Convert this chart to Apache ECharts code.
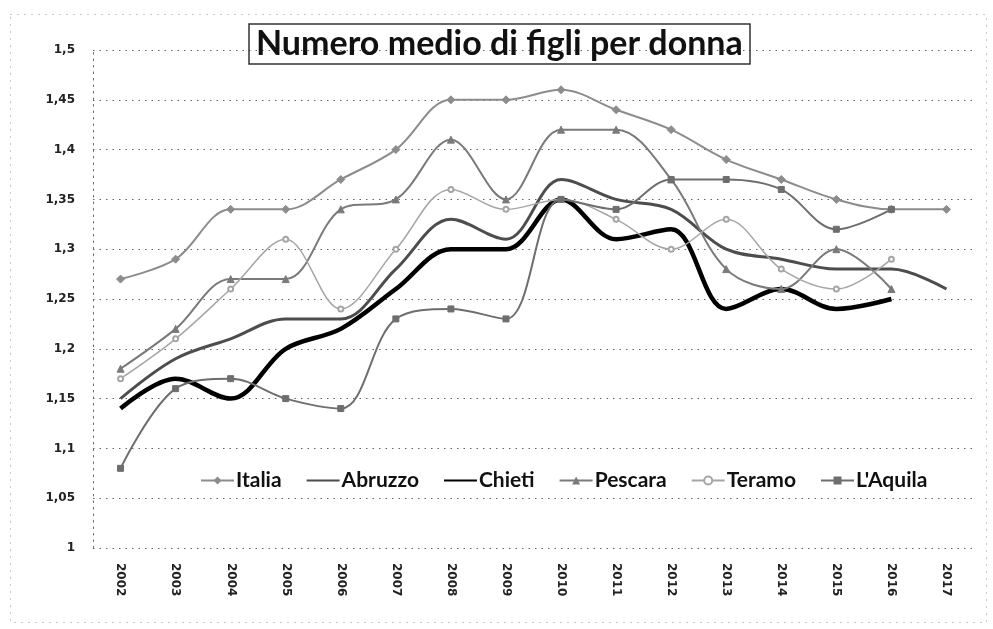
<!DOCTYPE html>
<html>
<head>
<meta charset="utf-8">
<script src="https://cdn.jsdelivr.net/npm/echarts@6/dist/echarts.min.js"></script>
<style>
  html, body { margin: 0; padding: 0; background: #fff; }
  #chart { width: 993px; height: 629px; }
</style>
</head>
<body>
<div id="chart"></div>
<script>
// Numero medio di figli per donna, 2002-2017
const years = ['2002', '2003', '2004', '2005', '2006', '2007', '2008', '2009', '2010', '2011', '2012', '2013', '2014', '2015', '2016', '2017'];
const italia = [1.27, 1.29, 1.34, 1.34, 1.37, 1.40, 1.45, 1.45, 1.46, 1.44, 1.42, 1.39, 1.37, 1.35, 1.34, 1.34];
const abruzzo = [1.15, 1.19, 1.21, 1.23, 1.23, 1.28, 1.33, 1.31, 1.37, 1.35, 1.34, 1.30, 1.29, 1.28, 1.28, 1.26];
const chieti = [1.14, 1.17, 1.15, 1.20, 1.22, 1.26, 1.30, 1.30, 1.35, 1.31, 1.32, 1.24, 1.26, 1.24, 1.25];
const pescara = [1.18, 1.22, 1.27, 1.27, 1.34, 1.35, 1.41, 1.35, 1.42, 1.42, 1.37, 1.28, 1.26, 1.30, 1.26];
const teramo = [1.17, 1.21, 1.26, 1.31, 1.24, 1.30, 1.36, 1.34, 1.35, 1.33, 1.30, 1.33, 1.28, 1.26, 1.29];
const laquila = [1.08, 1.16, 1.17, 1.15, 1.14, 1.23, 1.24, 1.23, 1.35, 1.34, 1.37, 1.37, 1.36, 1.32, 1.34];

const chart = echarts.init(document.getElementById('chart'), null, { renderer: 'canvas' });

const dotted = { color: '#666', width: 1, type: [1.5, 5] };

function line(name, data, color, width, symbol, symbolSize) {
  return {
    name,
    type: 'line',
    data,
    smooth: 0.35,
    symbol: symbol || 'none',
    symbolSize: symbolSize || 0,
    showSymbol: !!symbol,
    itemStyle: { color, borderColor: color },
    lineStyle: { color, width },
    emphasis: { disabled: true }
  };
}

chart.setOption({
  animation: false,
  backgroundColor: '#fff',
  title: {
    text: 'Numero medio di figli per donna',
    left: 249,
    top: 24,
    padding: [3, 7, 3, 7],
    borderColor: '#333',
    borderWidth: 1.5,
    textStyle: { fontFamily: 'Lato', fontWeight: 'bold', fontSize: 34, color: '#111' }
  },
  legend: {
    left: 195,
    top: 465,
    itemWidth: 33,
    itemHeight: 10,
    itemGap: 24,
    textStyle: { fontFamily: 'Lato', fontWeight: 'bold', fontSize: 21, color: '#111', padding: [0, 0, 0, -3] },
    data: [
      'Italia',
      { name: 'Abruzzo', itemStyle: { opacity: 0 } },
      { name: 'Chieti', itemStyle: { opacity: 0 } },
      'Pescara',
      'Teramo',
      "L'Aquila"
    ]
  },
  grid: { left: 93, right: 19, top: 50, bottom: 81 },
  xAxis: {
    type: 'category',
    data: years,
    boundaryGap: true,
    axisLine: { show: false },
    axisTick: { show: false },
    axisLabel: { rotate: -90, margin: 15, fontFamily: 'DejaVu Sans', fontWeight: 'bold', fontSize: 12, color: '#222' }
  },
  yAxis: {
    type: 'value',
    min: 1,
    max: 1.5,
    interval: 0.05,
    axisLine: { show: true, lineStyle: dotted },
    axisTick: { show: false },
    splitLine: { lineStyle: dotted },
    axisLabel: {
      margin: 18,
      fontFamily: 'DejaVu Sans',
      fontWeight: 'bold',
      fontSize: 12,
      color: '#222',
      formatter: (v) => String(+v.toFixed(2)).replace('.', ',')
    }
  },
  graphic: [{
    type: 'rect',
    left: 8,
    top: 12,
    shape: { width: 976, height: 608 },
    style: { fill: 'none', stroke: '#999', lineWidth: 1, lineDash: [1, 6] },
    silent: true
  }],
  series: [
    line('Italia', italia, '#8c8c8c', 2, 'diamond', 8),
    line('Abruzzo', abruzzo, '#4d4d4d', 3),
    line('Chieti', chieti, '#000', 4.5),
    line('Pescara', pescara, '#7a7a7a', 2, 'triangle', 7),
    line('Teramo', teramo, '#a6a6a6', 1.5, 'emptyCircle', 5),
    line("L'Aquila", laquila, '#6e6e6e', 2, 'rect', 6)
  ]
});
</script>
</body>
</html>
